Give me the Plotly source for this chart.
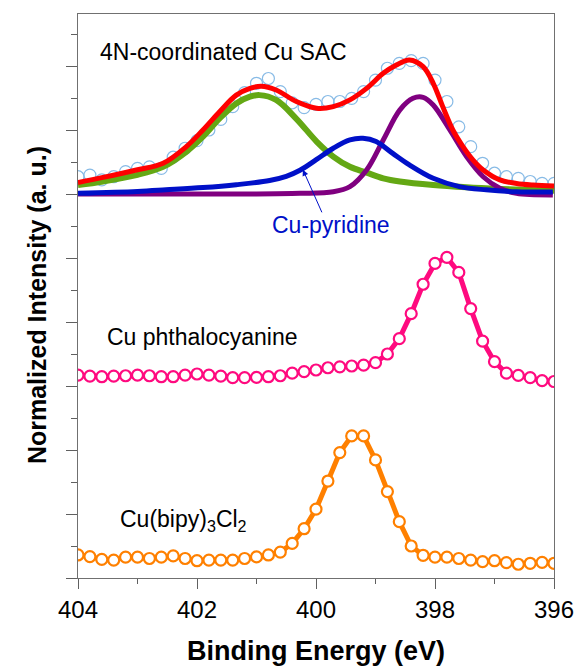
import plotly.graph_objects as go

# ---------------- data ----------------
ev_grid = [404.0, 403.8, 403.6, 403.4, 403.2, 403.0, 402.8, 402.6, 402.4, 402.2,
           402.0, 401.8, 401.6, 401.4, 401.2, 401.0, 400.8, 400.6, 400.4, 400.2,
           400.0, 399.8, 399.6, 399.4, 399.2, 399.0, 398.8, 398.6, 398.4, 398.2,
           398.0, 397.8, 397.6, 397.4, 397.2, 397.0, 396.8, 396.6, 396.4, 396.2, 396.0]

# 4N-coordinated Cu SAC raw data (open circles)
sac_raw = [12.54, 12.59, 12.44, 12.54, 12.70, 12.80, 12.85, 12.80, 13.15, 13.43,
           13.67, 14.00, 14.33, 14.73, 15.17, 15.46, 15.61, 15.20, 14.85, 14.70,
           14.80, 14.89, 14.89, 14.99, 15.20, 15.56, 15.93, 16.08, 16.17, 16.08,
           15.56, 14.89, 14.10, 13.48, 12.96, 12.65, 12.54, 12.49, 12.39, 12.33, 12.33]

# envelope fit (red)
fit_x = [404.0, 403.58, 403.02, 402.57, 402.18, 401.90, 401.62, 401.34, 401.11, 400.92,
         400.67, 400.33, 399.99, 399.71, 399.43, 399.15, 398.87, 398.65, 398.43, 398.20,
         398.03, 397.87, 397.70, 397.53, 397.36, 397.19, 396.91, 396.63, 396.35, 396.0]
fit_y = [12.36, 12.52, 12.75, 12.96, 13.48, 14.00, 14.57, 15.09, 15.30, 15.37,
         15.25, 14.89, 14.68, 14.73, 14.94, 15.30, 15.77, 16.03, 16.19, 15.98,
         15.46, 14.73, 14.00, 13.48, 13.06, 12.75, 12.44, 12.33, 12.28, 12.25]

# component 1 (green)
green_x = [404.0, 403.58, 403.02, 402.57, 402.18, 401.90, 401.62, 401.34, 401.11, 400.95,
           400.67, 400.33, 399.99, 399.71, 399.43, 399.15, 398.87, 398.59, 398.03, 397.47,
           396.91, 396.0]
green_y = [12.28, 12.39, 12.59, 12.85, 13.32, 13.79, 14.36, 14.83, 15.04, 15.09,
           14.94, 14.35, 13.64, 13.17, 12.85, 12.67, 12.49, 12.39, 12.28, 12.21,
           12.16, 12.10]

# Cu-pyridine component (blue)
blue_x = [404.0, 403.0, 402.52, 401.9, 401.34, 400.78, 400.5, 400.27, 399.99, 399.71,
          399.43, 399.21, 398.99, 398.71, 398.43, 398.03, 397.59, 397.14, 396.63, 396.02]
blue_y = [12.02, 12.08, 12.13, 12.20, 12.29, 12.42, 12.55, 12.74, 13.08, 13.43,
          13.69, 13.74, 13.64, 13.27, 12.91, 12.49, 12.23, 12.13, 12.07, 12.06]

# component 3 (purple)
purple_x = [404.0, 401.0, 400.27, 399.71, 399.43, 399.15, 398.87, 398.59, 398.37, 398.20,
            398.03, 397.75, 397.47, 397.19, 396.91, 396.63, 396.02]
purple_y = [12.00, 12.00, 12.02, 12.07, 12.23, 12.75, 13.69, 14.63, 14.99, 15.02,
            14.78, 14.00, 13.17, 12.54, 12.18, 12.02, 11.97]

# Cu phthalocyanine (pink)
pc_y = [6.34, 6.31, 6.29, 6.31, 6.32, 6.34, 6.32, 6.29, 6.29, 6.34,
        6.375, 6.34, 6.31, 6.26, 6.26, 6.27, 6.29, 6.32, 6.40, 6.45,
        6.50, 6.57, 6.60, 6.625, 6.65, 6.73, 7.00, 7.48, 8.26, 9.18,
        9.83, 10.02, 9.55, 8.42, 7.40, 6.76, 6.40, 6.33, 6.26, 6.17, 6.14]

# Cu(bipy)3Cl2 (orange)
bipy_y = [0.72, 0.67, 0.58, 0.56, 0.65, 0.65, 0.61, 0.65, 0.69, 0.61,
          0.54, 0.56, 0.56, 0.56, 0.61, 0.66, 0.72, 0.81, 1.08, 1.54,
          2.15, 3.03, 3.92, 4.44, 4.44, 3.69, 2.70, 1.76, 1.00, 0.71,
          0.65, 0.65, 0.61, 0.56, 0.51, 0.54, 0.48, 0.43, 0.46, 0.49, 0.46]

x_ticks = [404, 402, 400, 398, 396]

FONT = "Arial, Liberation Sans, sans-serif"

fig = go.Figure()

fig.add_trace(go.Scatter(x=ev_grid, y=sac_raw, mode="markers",
                         marker=dict(symbol="circle-open", size=12,
                                     color="#88bbe6", line=dict(width=1.2, color="#88bbe6")),
                         showlegend=False))
fig.add_trace(go.Scatter(x=green_x, y=green_y, mode="lines", line_shape="spline",
                         line=dict(color="#64a814", width=6), showlegend=False))
fig.add_trace(go.Scatter(x=purple_x, y=purple_y, mode="lines", line_shape="spline",
                         line=dict(color="#800080", width=5), showlegend=False))
fig.add_trace(go.Scatter(x=blue_x, y=blue_y, mode="lines", line_shape="spline",
                         line=dict(color="#0010c8", width=5), showlegend=False))
fig.add_trace(go.Scatter(x=fit_x, y=fit_y, mode="lines", line_shape="spline",
                         line=dict(color="#ff0000", width=5), showlegend=False))

fig.add_trace(go.Scatter(x=ev_grid, y=pc_y, mode="lines+markers",
                         line=dict(color="#ff0a7f", width=5),
                         marker=dict(symbol="circle", size=11, color="white",
                                     line=dict(width=2.2, color="#ff0a7f")),
                         showlegend=False))
fig.add_trace(go.Scatter(x=ev_grid, y=bipy_y, mode="lines+markers",
                         line=dict(color="#ff8000", width=5),
                         marker=dict(symbol="circle", size=11, color="white",
                                     line=dict(width=2.2, color="#ff8000")),
                         showlegend=False))

annos = [
    dict(x=403.67, y=16.44, text="4N-coordinated Cu SAC", xanchor="left", yanchor="middle",
         font=dict(size=23, color="black", family=FONT)),
    dict(x=403.55, y=7.53, text="Cu phthalocyanine", xanchor="left", yanchor="middle",
         font=dict(size=23, color="black", family=FONT)),
    dict(x=403.33, y=1.80, text="Cu(bipy)<sub>3</sub>Cl<sub>2</sub>", xanchor="left", yanchor="middle",
         font=dict(size=23, color="black", family=FONT)),
    dict(x=399.74, y=11.03, text="Cu-pyridine", xanchor="center", yanchor="middle",
         font=dict(size=23, color="#0010c8", family=FONT)),
    dict(x=400.22, y=12.76, ax=399.89, ay=11.38, axref="x", ayref="y", text="",
         showarrow=True, arrowhead=2, arrowsize=1.2, arrowwidth=1, arrowcolor="#0010c8"),
]
for a in annos:
    a.setdefault("showarrow", False)
    a.update(xref="x", yref="y")
    fig.add_annotation(**a)

# y-axis title placed as rotated text
fig.add_annotation(x=-0.086, y=0.484, xref="paper", yref="paper", showarrow=False,
                   text="<b>Normalized Intensity (a. u.)</b>", textangle=-90,
                   xanchor="center", yanchor="middle",
                   font=dict(size=25, color="black", family=FONT))

fig.update_xaxes(range=[404, 396], tickvals=x_ticks, ticktext=[str(t) for t in x_ticks],
                 ticks="outside", ticklen=10, tickcolor="#606060", tickwidth=1,
                 minor=dict(dtick=1, ticks="outside", ticklen=5, tickcolor="#606060"),
                 showline=True, linecolor="#707070", linewidth=1, mirror=True,
                 showgrid=False, zeroline=False, automargin=False,
                 tickfont=dict(size=24, color="black", family=FONT),
                 title=dict(text="<b>Binding Energy (eV)</b>", standoff=19,
                            font=dict(size=27, color="black", family=FONT)))
fig.update_yaxes(range=[0, 17.625], dtick=2, tick0=0, showticklabels=False,
                 ticks="outside", ticklen=11, tickcolor="#606060", tickwidth=1,
                 minor=dict(dtick=1, ticks="outside", ticklen=6, tickcolor="#606060"),
                 showline=True, linecolor="#707070", linewidth=1, mirror=True,
                 showgrid=False, zeroline=False, automargin=False)

fig.update_layout(width=577, height=669, margin=dict(l=78, r=23, t=14, b=91),
                  plot_bgcolor="white", paper_bgcolor="white",
                  font=dict(family=FONT))

fig.write_html("out.html")
